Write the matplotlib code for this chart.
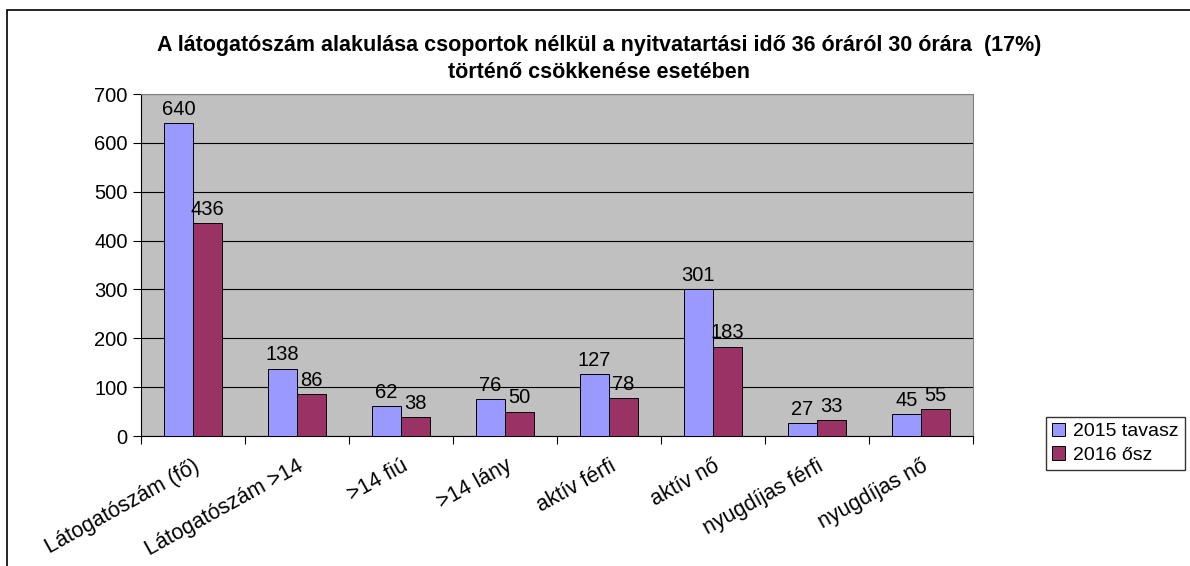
import numpy as np
import matplotlib.pyplot as plt
from matplotlib.patches import Rectangle

categories = ["Látogatószám (fő)", "Látogatószám >14", ">14 fiú", ">14 lány",
              "aktív férfi", "aktív nő", "nyugdíjas férfi", "nyugdíjas nő"]
spring_2015 = [640, 138, 62, 76, 127, 301, 27, 45]
autumn_2016 = [436, 86, 38, 50, 78, 183, 33, 55]
series_names = ["2015 tavasz", "2016 ősz"]
title = ("A látogatószám alakulása csoportok nélkül a nyitvatartási idő 36 óráról 30 órára  (17%)\n"
         "történő csökkenése esetében")

plt.rcParams['font.family'] = ['Liberation Sans', 'DejaVu Sans']

fig = plt.figure(figsize=(11.9, 5.66), dpi=100)
ax = fig.add_axes([141 / 1190, 1 - 436 / 566, 832 / 1190, 342 / 566])

# outer chart frame (runs off the right and bottom edges)
fig.patches.append(Rectangle((7 / 1190, -0.1), 1.2, 1 - 10 / 566 + 0.1,
                             transform=fig.transFigure, fill=False,
                             edgecolor="black", linewidth=1.2))

x = np.arange(len(categories))
w = 0.28
b1 = ax.bar(x - w / 2, spring_2015, w, color="#9999FF", edgecolor="black",
            linewidth=0.7, label=series_names[0], zorder=3)
b2 = ax.bar(x + w / 2, autumn_2016, w, color="#993366", edgecolor="black",
            linewidth=0.7, label=series_names[1], zorder=3)
ax.bar_label(b1, padding=3, fontsize=14.5)
ax.bar_label(b2, padding=3, fontsize=14.5)

ax.set_facecolor("#C0C0C0")
ax.set_xlim(-0.5, len(categories) - 0.5)
ax.set_ylim(0, 700)
ax.set_yticks(range(0, 701, 100))
ax.yaxis.grid(True, color="black", linewidth=0.8, zorder=0)
ax.set_axisbelow(True)

ax.set_xticks(np.arange(-0.5, len(categories)), minor=False)
ax.set_xticklabels([])
ax.set_xticks(x, minor=True)
ax.set_xticklabels(categories, minor=True, rotation=29, ha="right",
                   rotation_mode="anchor", fontsize=15.5)
ax.tick_params(axis="x", which="minor", length=0, pad=14)
ax.tick_params(axis="x", which="major", length=6, direction="out")
ax.tick_params(axis="y", labelsize=14.5, length=6, direction="out")
for side in ["top", "right"]:
    ax.spines[side].set_color("#808080")
for side in ["left", "bottom"]:
    ax.spines[side].set_color("black")

fig.text(0.5 + 4 / 1190, 1 - 59 / 566, title, ha="center", va="center", fontsize=15.5,
         fontweight="bold", linespacing=1.35)

fig.legend(loc="upper left", bbox_to_anchor=(1046 / 1190, 1 - 417 / 566),
           fontsize=14, frameon=True, fancybox=False, edgecolor="black",
           handlelength=0.7, handleheight=0.7, handletextpad=0.4,
           borderpad=0.3, labelspacing=0.3, borderaxespad=0)

fig.savefig("out.png", dpi=100)
